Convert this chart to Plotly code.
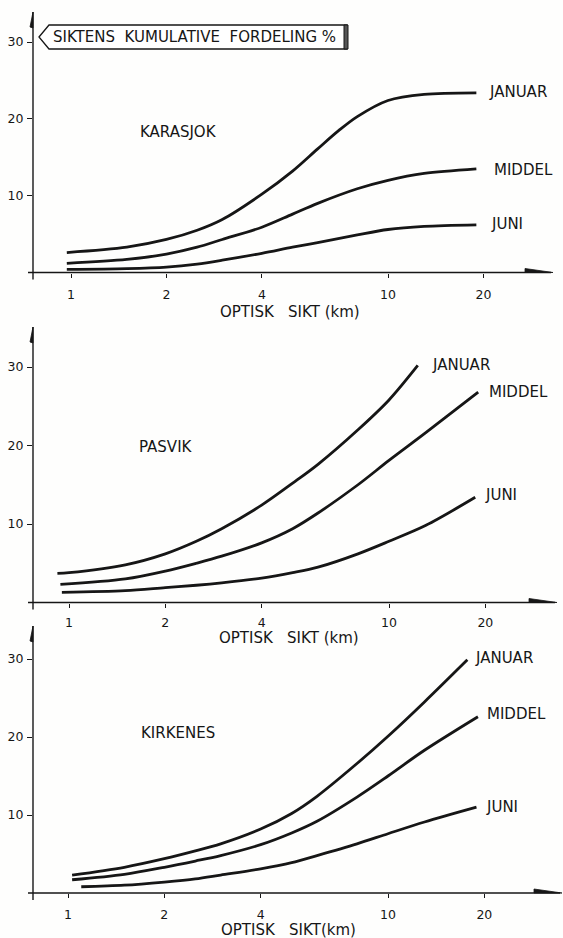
import plotly.graph_objects as go

# ---------------- data ----------------
TICK_X = [1, 2, 4, 10, 20]
TICK_X_TEXT = ["1", "2", "4", "10", "20"]
TICK_Y = [10, 20, 30]
TICK_Y_TEXT = ["10", "20", "30"]
SERIES_NAMES = ["JANUAR", "MIDDEL", "JUNI"]
STATIONS = ["KARASJOK", "PASVIK", "KIRKENES"]

# Karasjok
kar_jan_x = [0.97, 1.5, 2, 2.5, 3, 4, 5, 6, 7, 8, 10, 13, 19]
kar_jan_y = [2.6, 3.3, 4.3, 5.5, 6.9, 10.2, 13.2, 16.1, 18.5, 20.3, 22.4, 23.2, 23.4]
kar_mid_x = [0.97, 1.5, 2, 2.5, 3, 4, 5, 6, 8, 10, 13, 19]
kar_mid_y = [1.2, 1.7, 2.4, 3.3, 4.3, 5.9, 7.6, 9.0, 10.9, 12.0, 12.9, 13.5]
kar_jun_x = [0.97, 1.5, 2, 2.5, 3, 4, 5, 6, 8, 10, 13, 19]
kar_jun_y = [0.4, 0.5, 0.7, 1.1, 1.6, 2.5, 3.3, 3.9, 4.9, 5.6, 6.0, 6.2]

# Pasvik
pas_jan_x = [0.92, 1, 1.5, 2, 2.5, 3, 4, 5, 6, 8, 10, 12.3]
pas_jan_y = [3.7, 3.8, 4.8, 6.2, 7.8, 9.4, 12.4, 15.2, 17.6, 22.0, 25.8, 30.2]
pas_mid_x = [0.94, 1.5, 2, 2.5, 3, 4, 5, 6, 8, 10, 13, 19]
pas_mid_y = [2.3, 3.0, 4.0, 5.0, 5.9, 7.6, 9.4, 11.4, 15.0, 18.1, 21.6, 26.8]
pas_jun_x = [0.95, 1.5, 2, 2.5, 3, 4, 5, 6, 8, 10, 13, 18.6]
pas_jun_y = [1.3, 1.5, 1.9, 2.2, 2.5, 3.1, 3.8, 4.5, 6.2, 7.8, 9.8, 13.4]

# Kirkenes
kir_jan_x = [1.03, 1.5, 2, 2.5, 3, 4, 5, 6, 8, 10, 13, 17.7]
kir_jan_y = [2.3, 3.3, 4.4, 5.4, 6.3, 8.2, 10.2, 12.4, 16.6, 20.1, 24.5, 29.9]
kir_mid_x = [1.03, 1.5, 2, 2.5, 3, 4, 5, 6, 8, 10, 13, 19.1]
kir_mid_y = [1.7, 2.4, 3.3, 4.1, 4.8, 6.2, 7.7, 9.2, 12.3, 15.0, 18.3, 22.6]
kir_jun_x = [1.1, 1.5, 2, 2.5, 3, 4, 5, 6, 8, 10, 13, 18.9]
kir_jun_y = [0.8, 1.0, 1.4, 1.8, 2.3, 3.1, 3.9, 4.8, 6.3, 7.6, 9.1, 11.0]

DATA = [
    [(kar_jan_x, kar_jan_y), (kar_mid_x, kar_mid_y), (kar_jun_x, kar_jun_y)],
    [(pas_jan_x, pas_jan_y), (pas_mid_x, pas_mid_y), (pas_jun_x, pas_jun_y)],
    [(kir_jan_x, kir_jan_y), (kir_mid_x, kir_mid_y), (kir_jun_x, kir_jun_y)],
]

TITLE = "SIKTENS\u00a0\u00a0KUMULATIVE\u00a0\u00a0FORDELING\u00a0%"
XTITLES = ["OPTISK\u00a0\u00a0\u00a0SIKT\u00a0(km)", "OPTISK\u00a0\u00a0\u00a0SIKT\u00a0(km)",
           "OPTISK\u00a0\u00a0\u00a0SIKT(km)"]

# ---------------- layout geometry (pixels) ----------------
W, H = 563, 938
FONT = "DejaVu Sans"
INK = "#161616"


def px(x):
    return x / W


def py(y):
    return 1 - y / H


PANELS = [
    dict(y0=272.5, ytop=12, k=7.68, x1=71, dec=317, xr=553, stand=6,
         station=(178, 132), labels=[(487, 92), (492, 170), (489, 224)], xt=(290, 312)),
    dict(y0=602.5, ytop=327, k=7.85, x1=69, dec=320, xr=557, stand=4,
         station=(166, 447), labels=[(430, 365), (487, 392), (483, 495)], xt=(289, 638)),
    dict(y0=893, ytop=626, k=7.8, x1=68, dec=320, xr=562, stand=6,
         station=(178, 733), labels=[(473, 658), (485, 714), (484, 807)], xt=(288, 930)),
]
YAX_X = 33

fig = go.Figure()
shapes = []
annotations = []
layout_axes = {}

for i, p in enumerate(PANELS):
    n = "" if i == 0 else str(i + 1)
    xa, ya = "x" + n, "y" + n
    for (xs, ys), name in zip(DATA[i], SERIES_NAMES):
        fig.add_trace(go.Scatter(
            x=xs, y=ys, mode="lines", name=name, xaxis=xa, yaxis=ya,
            line=dict(color=INK, width=2.8, shape="spline", smoothing=0.9),
            showlegend=False, hoverinfo="x+y",
        ))
    xlo = (YAX_X - p["x1"]) / p["dec"]
    xhi = (p["xr"] - p["x1"]) / p["dec"]
    ytop_val = (p["y0"] - p["ytop"]) / p["k"]
    layout_axes["xaxis" + n] = dict(
        type="log", range=[xlo, xhi], domain=[px(YAX_X), px(p["xr"])],
        anchor=ya, showgrid=False, zeroline=False, showline=False,
        tickvals=TICK_X, ticktext=TICK_X_TEXT, ticks="outside", ticklen=4,
        tickwidth=1.3, tickcolor=INK, ticklabelstandoff=p["stand"],
        tickfont=dict(family=FONT, size=12.5, color=INK), fixedrange=True,
    )
    layout_axes["yaxis" + n] = dict(
        range=[0, ytop_val], domain=[py(p["y0"]), py(p["ytop"])],
        anchor=xa, showgrid=False, zeroline=False, showline=False,
        tickvals=TICK_Y, ticktext=TICK_Y_TEXT, ticks="outside", ticklen=5,
        tickwidth=1.3, tickcolor=INK, ticklabelstandoff=1,
        tickfont=dict(family=FONT, size=12.5, color=INK), fixedrange=True,
    )
    shapes.append(dict(type="line", xref="paper", yref="paper",
                       x0=px(28), x1=px(p["xr"] - 2), y0=py(p["y0"]), y1=py(p["y0"]),
                       line=dict(color=INK, width=1.4)))
    shapes.append(dict(type="line", xref="paper", yref="paper",
                       x0=px(YAX_X), x1=px(YAX_X), y0=py(p["ytop"]), y1=py(p["y0"] + 7),
                       line=dict(color=INK, width=1.4)))
    ax, ay = YAX_X, p["ytop"]
    shapes.append(dict(type="path", xref="paper", yref="paper",
                       path=f"M {px(ax)},{py(ay)} L {px(ax - 3)},{py(ay + 15)} L {px(ax)},{py(ay + 16)} Z",
                       fillcolor=INK, line=dict(color=INK, width=0.8)))
    bx, by = p["xr"], p["y0"]
    shapes.append(dict(type="path", xref="paper", yref="paper",
                       path=f"M {px(bx - 28)},{py(by - 4)} L {px(bx)},{py(by)} L {px(bx - 28)},{py(by)} Z",
                       fillcolor=INK, line=dict(color=INK, width=0.8)))
    annotations.append(dict(text=STATIONS[i], xref="paper", yref="paper",
                            x=px(p["station"][0]), y=py(p["station"][1]),
                            xanchor="center", yanchor="middle", showarrow=False,
                            font=dict(family=FONT, size=15, color=INK)))
    for (lx, ly), name in zip(p["labels"], SERIES_NAMES):
        annotations.append(dict(text=name, xref="paper", yref="paper",
                                x=px(lx), y=py(ly), xanchor="left", yanchor="middle",
                                showarrow=False, font=dict(family=FONT, size=15, color=INK)))
    annotations.append(dict(text=XTITLES[i], xref="paper", yref="paper",
                            x=px(p["xt"][0]), y=py(p["xt"][1]), xanchor="center",
                            yanchor="middle", showarrow=False,
                            font=dict(family=FONT, size=15, color=INK)))

# title box with pointed left end
shapes.append(dict(type="path", xref="paper", yref="paper",
                   path=(f"M {px(39)},{py(37)} L {px(49)},{py(25)} L {px(347)},{py(25)} "
                         f"L {px(347)},{py(49)} L {px(49)},{py(49)} Z"),
                   fillcolor="white", line=dict(color=INK, width=1.3)))
shapes.append(dict(type="rect", xref="paper", yref="paper",
                   x0=px(344), x1=px(348), y0=py(49), y1=py(25),
                   fillcolor="#555", line=dict(color=INK, width=1)))
annotations.append(dict(text=TITLE, xref="paper", yref="paper", x=px(194), y=py(37.5),
                        xanchor="center", yanchor="middle", showarrow=False,
                        font=dict(family=FONT, size=15, color=INK)))

fig.update_layout(
    width=W, height=H, margin=dict(l=0, r=0, t=0, b=0),
    paper_bgcolor="#fefefd", plot_bgcolor="rgba(0,0,0,0)",
    shapes=shapes, annotations=annotations, showlegend=False,
    **layout_axes,
)

fig.write_html("out.html", config={"displayModeBar": False})
